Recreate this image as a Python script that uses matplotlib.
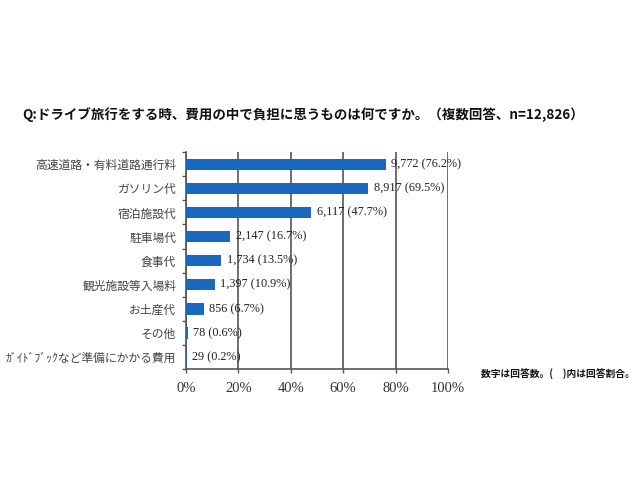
import matplotlib
matplotlib.use('Agg')
import matplotlib.pyplot as plt
from matplotlib.ticker import FixedLocator

plt.rcParams['font.family'] = ['Noto Sans CJK JP', 'DejaVu Sans']

# data
categories = ['高速道路・有料道路通行料', 'ガソリン代', '宿泊施設代', '駐車場代', '食事代',
              '観光施設等入場料', 'お土産代', 'その他', 'ｶﾞｲﾄﾞﾌﾞｯｸなど準備にかかる費用']
counts = [9772, 8917, 6117, 2147, 1734, 1397, 856, 78, 29]
percents = [76.2, 69.5, 47.7, 16.7, 13.5, 10.9, 6.7, 0.6, 0.2]
xticks = [0, 20, 40, 60, 80, 100]

bar_color = '#1a68bd'
serif = ['Liberation Serif', 'DejaVu Serif']

fig = plt.figure(figsize=(6.4, 4.8), dpi=100)
ax = fig.add_axes([0.2906, 0.231, 0.7 - 0.2906, 0.683 - 0.231])

ypos = list(range(len(categories)))
ax.barh(ypos, percents, height=0.47, color=bar_color, zorder=3)

for y, c, p in zip(ypos, counts, percents):
    ax.text(p + 2.2, y, f'{c:,} ({p}%)', va='center', ha='left',
            fontsize=8.8, family=serif, color='#222222', zorder=4)

ax.set_xlim(0, 100)
ax.set_ylim(len(categories) - 0.5, -0.5)

ax.set_xticks(xticks)
ax.set_xticklabels([f'{t}%' for t in xticks], family=serif, fontsize=10.5, color='#333333')
ax.tick_params(axis='x', length=3, width=1, color='#555555', pad=6)

ax.set_yticks(ypos)
ax.set_yticklabels(categories, fontsize=8.5, color='#444444')
ax.tick_params(axis='y', which='major', length=0, pad=7)
ax.yaxis.set_minor_locator(FixedLocator([i - 0.5 for i in range(len(categories) + 1)]))
ax.tick_params(axis='y', which='minor', length=3, width=1, color='#555555')

ax.xaxis.grid(True, color='#555555', linewidth=1.2, zorder=0)
for s in ['top', 'right']:
    ax.spines[s].set_visible(False)
for s in ['left', 'bottom']:
    ax.spines[s].set_color('#555555')
    ax.spines[s].set_linewidth(1.2)

fig.text(22 / 640, 1 - 115 / 480,
         'Q:ドライブ旅行をする時、費用の中で負担に思うものは何ですか。（複数回答、n=12,826）',
         fontsize=9.7, fontweight='bold', va='center', ha='left', color='#111111')

fig.text(481 / 640, 1 - 374 / 480, '数字は回答数。(\u3000)内は回答割合。',
         fontsize=7, fontweight='bold', va='center', ha='left', color='#111111')

fig.savefig('out.png', dpi=100)
